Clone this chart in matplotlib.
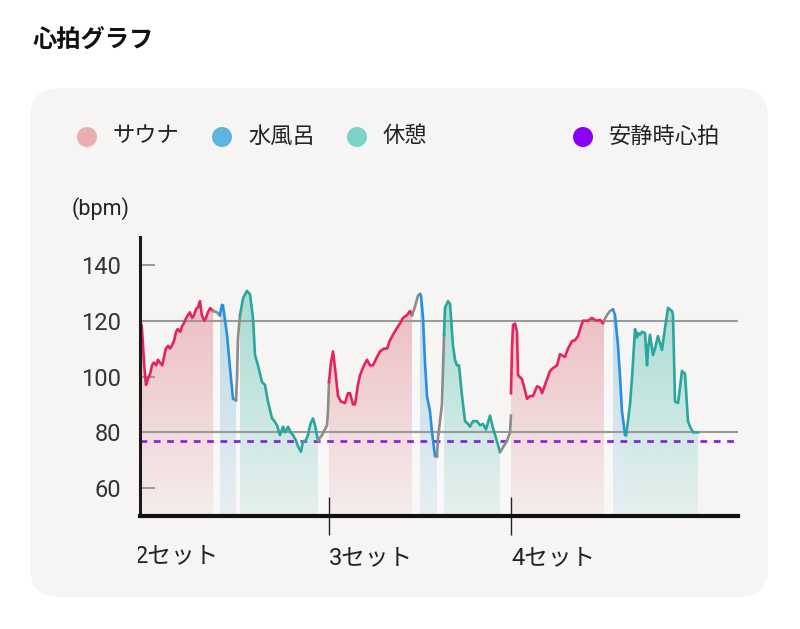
import numpy as np
import matplotlib
matplotlib.use("Agg")
import matplotlib.pyplot as plt
from matplotlib.patches import FancyBboxPatch, Polygon, Circle, Rectangle

plt.rcParams['font.family'] = ['Roboto', 'Noto Sans CJK JP', 'DejaVu Sans']

# ---------------- data (time in minutes, heart rate in bpm) ----------------
title = "心拍グラフ"
legend_labels = ["サウナ", "水風呂", "休憩", "安静時心拍"]
set_labels = ["2セット", "3セット", "4セット"]
set_starts = [-0.9, 31.5, 61.83]
y_ticks = [60, 80, 100, 120, 140]
ref_lines = [80, 120]
resting_hr = 77

# set 2
sauna2_t = [0, 0.3, 0.7, 1.0, 1.3, 1.7, 2.0, 2.3, 2.7, 3.0, 3.3, 3.7, 4.0, 4.3, 4.7, 5.0, 5.3,
            5.7, 6.0, 6.3, 6.7, 7.0, 7.3, 7.7, 8.0, 8.3, 8.7, 9.0, 9.3, 9.7, 10.0, 10.3, 10.7,
            11.0, 11.3, 11.7, 12.2]
sauna2_hr = [120, 118, 104, 97, 99, 101, 104, 105, 104, 106, 105, 104, 107, 110, 111, 110, 111,
             113, 116, 117, 116, 118, 119, 121, 122, 123, 121, 122, 124, 125, 127, 122, 120,
             121, 123, 124.5, 123.5]
trans2a_t = [12.2, 12.8, 13.3]
trans2a_hr = [123.5, 123, 122]
water2_t = [13.3, 13.67, 13.83, 14.5, 15.0, 15.5, 16.0]
water2_hr = [122, 125.7, 125.5, 115, 103, 92, 91.5]
trans2b_t = [16.0, 16.17, 16.33, 16.67]
trans2b_hr = [91.5, 99.4, 113.8, 122]
rest2_t = [16.67, 17.17, 17.83, 18.33, 18.83, 19.17, 19.67, 20.0, 20.33, 20.83, 21.33, 22.0,
           22.4, 22.83, 23.33, 23.83, 24.2, 24.67, 25.1, 25.5, 26.0, 26.33, 26.83, 27.17,
           27.6, 28.0, 28.4, 28.83, 29.17, 29.67]
rest2_hr = [122, 128, 130.7, 129.5, 121, 107.7, 104, 101, 98, 97, 91, 85,
            84, 82.5, 79, 82, 80, 82, 80, 79, 77, 75, 73, 76.8,
            77, 79, 83, 85, 82.5, 77]
trans3_t = [29.67, 30.33, 31.17, 31.33, 31.5]
trans3_hr = [77, 79, 82.5, 87.5, 98]

# set 3
sauna3_t = [31.5, 31.83, 32.17, 32.5, 33.0, 33.5, 34.17, 34.67, 35.0, 35.5, 35.83, 36.33,
            36.67, 37.33, 37.83, 38.33, 38.83, 39.5, 40.0, 40.67, 41.17, 41.67, 42.17,
            42.83, 43.33, 43.83, 44.5, 45.0, 45.33]
sauna3_hr = [98, 105, 109, 103, 93, 91, 90.5, 94, 94, 90, 90, 97,
             100.5, 104, 106, 104, 104, 107, 109, 110, 110, 113, 115,
             117.4, 119, 121, 122, 123.5, 122]
trans3b_t = [45.33, 45.83, 46.33, 46.67]
trans3b_hr = [122, 125, 129, 129.5]
water3_t = [46.67, 46.83, 47.17, 47.5, 47.83, 48.33, 48.67, 49.17, 49.5]
water3_hr = [129.5, 129, 121, 105, 93, 87.5, 80, 71.4, 71.4]
trans3c_t = [49.5, 49.67, 50.33, 50.67]
trans3c_hr = [71.4, 78, 90, 115]
rest3_t = [50.67, 50.83, 51.33, 51.67, 52.17, 52.5, 52.83, 53.17, 53.67, 54.17, 54.67, 55.0,
           55.5, 56.17, 56.67, 57.17, 57.67, 58.33, 58.83, 59.33, 60.0]
rest3_hr = [115, 124.6, 127, 126, 111, 106, 104, 104, 93, 84, 83, 82,
            84, 84, 82.5, 83, 81, 86, 81.5, 78, 73]
trans4_t = [60.0, 60.33, 61.17, 61.67, 61.83]
trans4_hr = [73, 74, 77, 80, 86]

# set 4
sauna4_t = [61.83, 62.0, 62.17, 62.5, 62.83, 63.0, 63.67, 64.17, 64.5, 65.0, 65.5, 66.17,
            66.67, 67.0, 67.67, 68.33, 68.83, 69.5, 70.0, 70.83, 71.33, 72.0, 72.5, 73.0,
            73.5, 73.83, 74.67, 75.33, 76.0, 76.67, 77.17, 77.33]
sauna4_hr = [94, 110, 118.5, 119, 116, 100.5, 99, 95, 92, 93, 93, 96.5,
             96, 94, 98, 102, 103, 104, 108, 107, 110, 112.7, 113, 114.5,
             118, 120, 120, 121, 120, 120.3, 119, 120]
trans4b_t = [77.33, 77.83, 78.33, 78.83]
trans4b_hr = [120, 122, 123.5, 124]
water4_t = [78.83, 79.17, 79.67, 80.0, 80.33, 80.67, 80.83, 81.0]
water4_hr = [124, 122, 111, 100, 87.5, 82, 79, 79]
rest4_t = [81.0, 81.33, 81.67, 82.0, 82.5, 82.83, 83.0, 83.33, 83.67, 84.17, 84.5, 84.67,
           85.0, 85.5, 85.83, 86.33, 87.0, 87.5, 88.0, 88.33, 88.67, 88.83, 89.17, 89.67,
           90.0, 90.33, 90.83, 91.33, 91.67, 92.17, 93.0]
rest4_hr = [79, 84, 90, 99.5, 117, 114, 115.6, 115, 116, 115.6, 104, 110,
            115, 107.7, 110, 114.5, 109.5, 117.4, 124.6, 124, 123.5, 122, 91, 90.5,
            96, 102, 101, 84, 82, 80, 80]

# ---------------- styling ----------------
C_SAUNA_LINE = '#e5245e'
C_WATER_LINE = '#2a8ee0'
C_REST_LINE = '#2aa79d'
C_GRAY = '#8c8c8c'
C_SAUNA_FILL = (230/255, 140/255, 148/255)
C_WATER_FILL = (110/255, 180/255, 220/255)
C_REST_FILL = (90/255, 195/255, 180/255)
LEG_COLORS = ['#eaaeb1', '#5bb5dc', '#7dd3c8', '#8b00f2']
CARD = '#f6f5f4'

W, H = 800, 629
fig = plt.figure(figsize=(W/100, H/100), dpi=100, facecolor='white')

# overlay in pixel coordinates
bg = fig.add_axes([0, 0, 1, 1], zorder=0)
bg.set_xlim(0, W)
bg.set_ylim(H, 0)
bg.axis('off')
bg.add_patch(FancyBboxPatch((30, 88), 738, 509, boxstyle='round,pad=0,rounding_size=30',
                            fc=CARD, ec='none'))
bg.text(33, 40, title, fontsize=17.5, fontweight='bold', va='center', ha='left', color='#111')

leg_cx = [87, 222, 357, 583]
leg_tx = [113, 248, 383, 609]
for cx, tx, lab, col in zip(leg_cx, leg_tx, legend_labels, LEG_COLORS):
    bg.add_patch(Circle((cx, 137), 10, fc=col, ec='none'))
    bg.text(tx, 137, lab, fontsize=16, va='center', ha='left', color='#222')
bg.text(72, 209, "(bpm)", fontsize=15.5, va='center', ha='left', color='#222')

# first set label, partly hidden at the left edge of the plot
x0_px = 140 + set_starts[0] * 6
bg.text(x0_px, 556, set_labels[0], fontsize=17, va='center', ha='left', color='#222', zorder=3)
bg.add_patch(Rectangle((60, 535), 137.5 - 60, 40, fc=CARD, ec='none', zorder=4))

# main axes
ax = fig.add_axes([140/W, 1-516/H, (738-140)/W, (516-237)/H], zorder=1)
ax.set_facecolor('none')
XMAX = (738-140)/6
YMIN, YMAX = 50, 150


def grad_fill(t, hr, rgb, a_top, a_bot):
    verts = [(t[0], YMIN)] + list(zip(t, hr)) + [(t[-1], YMIN)]
    poly = Polygon(verts, closed=True, fc='none', ec='none', transform=ax.transData)
    ax.add_patch(poly)
    ys = np.linspace(YMIN, YMAX, 200)
    a = a_bot + (a_top - a_bot) * np.clip((ys - YMIN) / 75.0, 0, 1)
    img = np.zeros((200, 2, 4))
    img[..., :3] = rgb
    img[..., 3] = a[:, None]
    im = ax.imshow(img, extent=[t[0], t[-1], YMIN, YMAX], origin='lower', aspect='auto',
                   interpolation='bilinear', zorder=1)
    im.set_clip_path(poly)


segments = [
    (sauna2_t, sauna2_hr, 'sauna'), (trans2a_t, trans2a_hr, 'gray'),
    (water2_t, water2_hr, 'water'), (trans2b_t, trans2b_hr, 'gray'),
    (rest2_t, rest2_hr, 'rest'), (trans3_t, trans3_hr, 'gray'),
    (sauna3_t, sauna3_hr, 'sauna'), (trans3b_t, trans3b_hr, 'gray'),
    (water3_t, water3_hr, 'water'), (trans3c_t, trans3c_hr, 'gray'),
    (rest3_t, rest3_hr, 'rest'), (trans4_t, trans4_hr, 'gray'),
    (sauna4_t, sauna4_hr, 'sauna'), (trans4b_t, trans4b_hr, 'gray'),
    (water4_t, water4_hr, 'water'), (rest4_t, rest4_hr, 'rest'),
]

style = {
    'sauna': (C_SAUNA_LINE, C_SAUNA_FILL, 0.52, 0.08),
    'water': (C_WATER_LINE, C_WATER_FILL, 0.42, 0.1),
    'rest': (C_REST_LINE, C_REST_FILL, 0.48, 0.1),
    'gray': (C_GRAY, (1, 1, 1), 0.4, 0.4),
}

for t, hr, kind in segments:
    lc, fc, at, ab = style[kind]
    grad_fill(t, hr, fc, at, ab)
    ax.plot(t, hr, color=lc, lw=1.9, zorder=4, solid_joinstyle='round')

for v in ref_lines:
    ax.axhline(v, color='#9a9a9a', lw=1.5, zorder=2)
ax.axhline(resting_hr, color='#8a22e6', lw=2.0, ls=(0, (2.4, 2.4)), zorder=3)

ax.set_xlim(0, XMAX)
ax.set_ylim(YMIN, YMAX)

ax.spines['top'].set_visible(False)
ax.spines['right'].set_visible(False)
ax.spines['left'].set_color('#1a1a1a')
ax.spines['left'].set_linewidth(2.2)
ax.spines['bottom'].set_color('#111')
ax.spines['bottom'].set_linewidth(3.0)
ax.spines['left'].set_zorder(5)
ax.spines['bottom'].set_zorder(5)

ax.set_yticks(y_ticks)
ax.set_yticklabels([str(v) for v in y_ticks])
ax.tick_params(axis='y', direction='in', length=11, width=1.4, color='#9a9a9a',
               pad=13.5, labelsize=17, labelcolor='#333')

ax.set_xticks(set_starts[1:])
ax.set_xticklabels(set_labels[1:])
ax.tick_params(axis='x', direction='inout', length=27, width=1.0, color='#222',
               pad=8.5, labelsize=17, labelcolor='#222')
for lbl in ax.get_xticklabels():
    lbl.set_horizontalalignment('left')

fig.savefig('out.png', dpi=100, facecolor='white')
